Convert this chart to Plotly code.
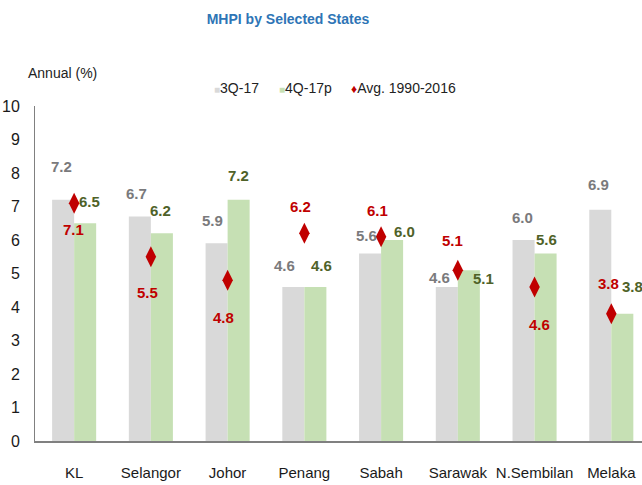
import plotly.graph_objects as go

# ---- data ----
states = ["KL", "Selangor", "Johor", "Penang", "Sabah", "Sarawak", "N.Sembilan", "Melaka"]
q3_17 = [7.2, 6.7, 5.9, 4.6, 5.6, 4.6, 6.0, 6.9]
q4_17p = [6.5, 6.2, 7.2, 4.6, 6.0, 5.1, 5.6, 3.8]
avg_1990_2016 = [7.1, 5.5, 4.8, 6.2, 6.1, 5.1, 4.6, 3.8]
y_ticks = [0, 1, 2, 3, 4, 5, 6, 7, 8, 9, 10]

# ---- label placement (pixel offsets from each point) ----
gray_dx = [-13, -14, -15, -20, -15, -18, -12, -13]
gray_dy = [33, 23, 23, 21, 18, 9, 23, 25]
green_dx = [15, 10, 11, 17, 23, 26, 12, 21]
green_dy = [22, 23, 24, 21, 9, -8, 14, 27]
red_dx = [-1, -3, -4, -4, -4, -5, 5, -3]
red_dy = [-26, -36, -37, 27, 26, 30, -38, 30]

FONT = "Liberation Sans, Arial, sans-serif"
GRAY = "#D9D9D9"
GREEN = "#C6E0B4"
RED = "#C00000"

fig = go.Figure()
fig.add_trace(go.Bar(x=states, y=q3_17, name="3Q-17", marker_color=GRAY,
                     marker_line_width=0, showlegend=False))
fig.add_trace(go.Bar(x=states, y=q4_17p, name="4Q-17p", marker_color=GREEN,
                     marker_line_width=0, showlegend=False))
fig.add_trace(go.Scatter(x=states, y=avg_1990_2016, name="Avg. 1990-2016", mode="markers",
                         marker=dict(symbol="diamond-tall", size=15, color=RED),
                         showlegend=False))

ann = []
for i, s in enumerate(states):
    ann.append(dict(x=s, y=q3_17[i], text=f"<b>{q3_17[i]:.1f}</b>", showarrow=False,
                    xshift=gray_dx[i], yshift=gray_dy[i],
                    font=dict(family=FONT, size=15, color="#7A7A7C")))
    ann.append(dict(x=s, y=q4_17p[i], text=f"<b>{q4_17p[i]:.1f}</b>", showarrow=False,
                    xshift=green_dx[i], yshift=green_dy[i],
                    font=dict(family=FONT, size=15, color="#4F6228")))
    ann.append(dict(x=s, y=avg_1990_2016[i], text=f"<b>{avg_1990_2016[i]:.1f}</b>", showarrow=False,
                    xshift=red_dx[i], yshift=red_dy[i],
                    font=dict(family=FONT, size=15, color=RED)))

# legend drawn as text
legend_items = [
    (0.2916, f"<span style='color:{GRAY};font-size:10px'>■</span>3Q-17"),
    (0.3987, f"<span style='color:{GREEN};font-size:10px'>■</span>4Q-17p"),
    (0.5173, f"<span style='color:{RED};font-size:12px'>♦</span>Avg. 1990-2016"),
]
for lx, txt in legend_items:
    ann.append(dict(x=lx, y=1.0537, xref="paper", yref="paper", text=txt, showarrow=False,
                    xanchor="left", yanchor="middle",
                    font=dict(family=FONT, size=14, color="#222222")))

ann.append(dict(x=0.0445, y=1.0985, xref="paper", yref="paper", text="Annual (%)",
                showarrow=False, xanchor="center", yanchor="middle",
                font=dict(family=FONT, size=14, color="#222222")))

fig.update_layout(
    width=642, height=485,
    margin=dict(l=35, r=0, t=106, b=44, autoexpand=False),
    paper_bgcolor="white", plot_bgcolor="white",
    barmode="group", bargap=0.426, bargroupgap=0,
    title=dict(text="<b>MHPI by Selected States</b>", x=288 / 642, xanchor="center",
               y=1 - 19 / 485, yanchor="middle",
               font=dict(family=FONT, size=14, color="#2E75B6")),
    annotations=ann,
    xaxis=dict(range=[-0.51, 7.40], showline=True, linecolor="#808080", linewidth=2,
               ticks="", showgrid=False, zeroline=False, ticklabelstandoff=17, tickangle=0,
               tickfont=dict(family=FONT, size=15, color="#1A1A1A")),
    yaxis=dict(range=[0, 10], tickvals=y_ticks, showline=True, linecolor="#808080",
               linewidth=1, ticks="", showgrid=False, zeroline=False, ticklabelstandoff=11,
               tickfont=dict(family=FONT, size=16, color="#1A1A1A")),
    showlegend=False,
)

fig.write_html(
    "out.html",
    config={"displayModeBar": False},
    post_script="document.body.style.margin='0';document.body.style.overflow='hidden';",
)
